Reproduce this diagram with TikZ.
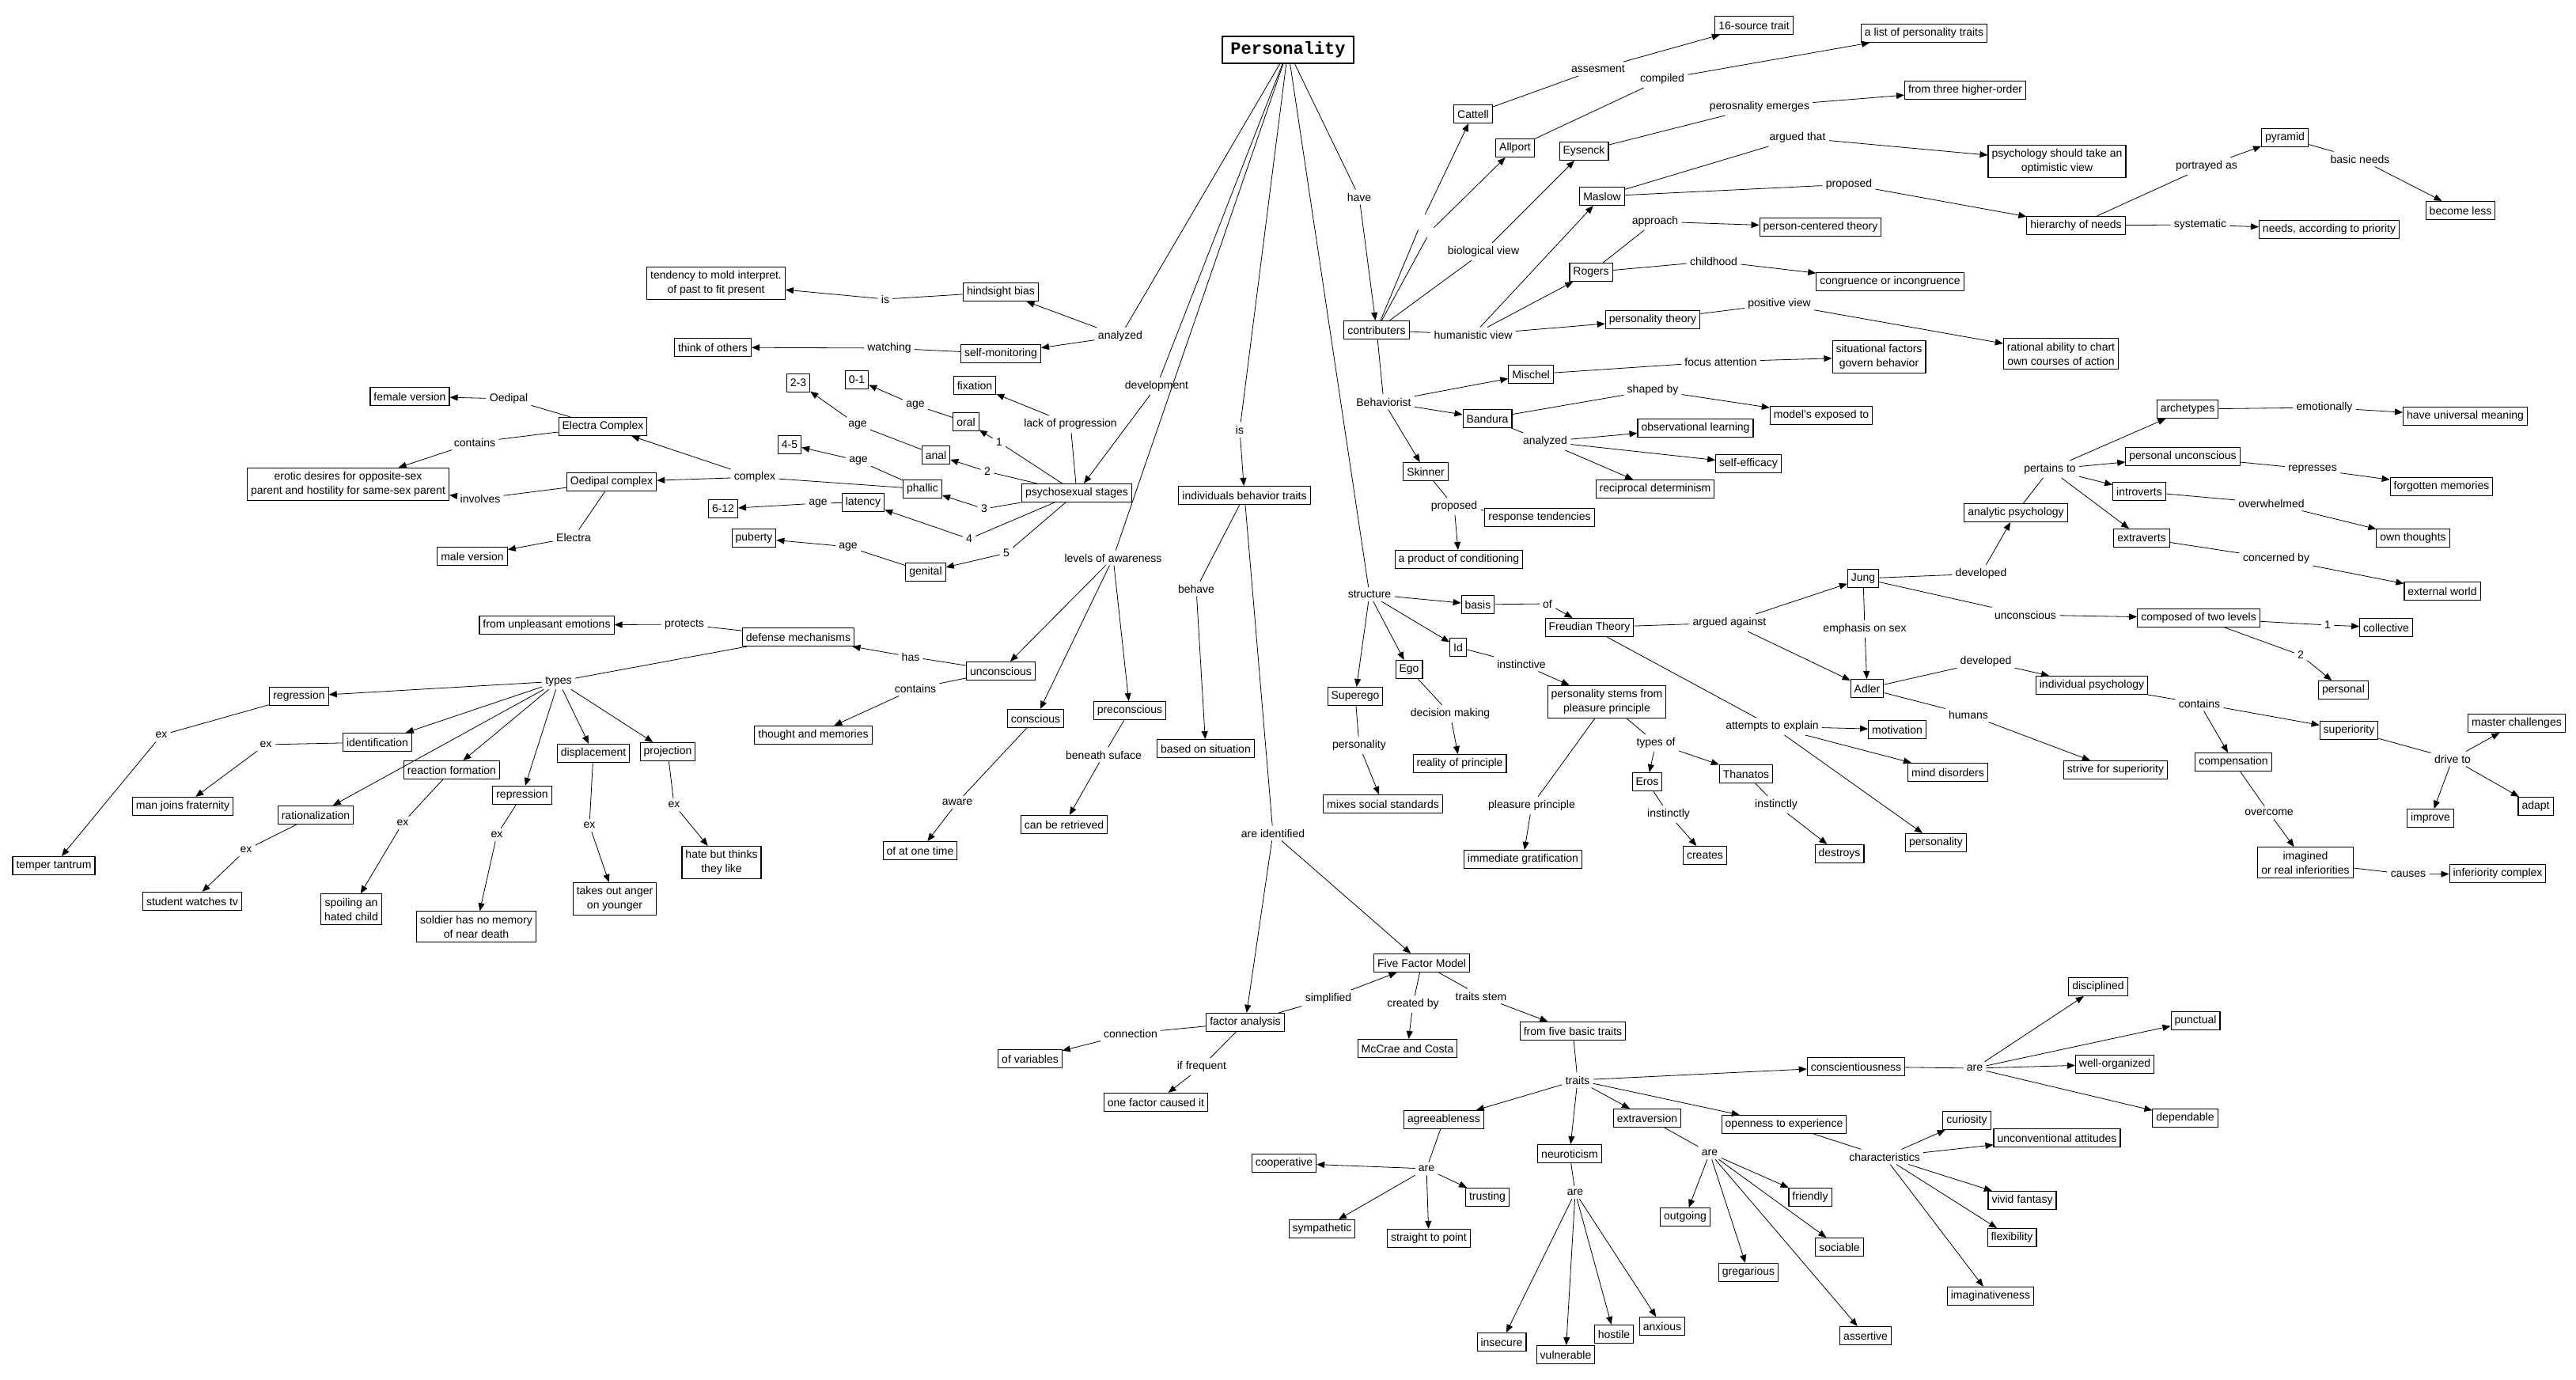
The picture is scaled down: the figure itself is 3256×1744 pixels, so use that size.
\documentclass[tikz,border=0pt]{standalone}
\usepackage{fontspec}
\setmainfont{Liberation Sans}
\newfontfamily\titlefont{Liberation Mono}
\usetikzlibrary{arrows.meta}
\begin{document}
\begin{tikzpicture}[x=1pt,y=-1pt,line width=0.8pt,
  >={Triangle[length=10pt,width=8pt]},
  mynode/.style={draw,line width=1.1pt,inner xsep=4.5pt,inner ysep=5pt,minimum height=23pt,align=center,font=\fontsize{14}{18}\selectfont},
  mylink/.style={inner sep=4pt,align=center,font=\fontsize{14}{18}\selectfont},
  myblank/.style={inner sep=0pt,minimum width=8pt,minimum height=22pt}
]
\useasboundingbox (0,0) rectangle (3256,1744);
\node[mynode,font=\fontsize{22}{24}\selectfont\titlefont\bfseries,minimum width=166pt,minimum height=34pt] (pers) at (1628,63) {Personality};

\node[mylink] (anlz) at (1416,425) {analyzed};
\node[mynode] (hind) at (1265,369) {hindsight bias};
\node[mylink] (isA) at (1119,378) {is};
\node[mynode] (tend) at (905,358) {tendency to mold interpret.\\of past to fit present};
\node[mynode] (selfm) at (1265,447) {self-monitoring};
\node[mylink] (watch) at (1124,440) {watching};
\node[mynode] (think) at (901,439) {think of others};
\node[mylink] (devel) at (1462,488) {development};
\node[mynode] (psy) at (1361,623) {psychosexual stages};
\node[mylink] (lack) at (1353,536) {lack of progression};
\node[mynode] (fix) at (1232,487) {fixation};
\node[mylink] (n1) at (1263,559) {1};
\node[mylink] (n2) at (1248,596) {2};
\node[mylink] (n3) at (1244,643) {3};
\node[mylink] (n4) at (1225,681) {4};
\node[mylink] (n5) at (1272,699) {5};
\node[mynode] (oral) at (1221,533) {oral};
\node[mynode] (anal) at (1183,575) {anal};
\node[mynode] (phal) at (1166,618) {phallic};
\node[mynode] (lat) at (1091,635) {latency};
\node[mynode] (gen) at (1170,723) {genital};
\node[mylink] (ageO) at (1157,512) {age};
\node[mylink] (ageA) at (1084,537) {age};
\node[mylink] (ageP) at (1085,582) {age};
\node[mylink] (ageL) at (1034,636) {age};
\node[mylink] (ageG) at (1072,691) {age};
\node[mynode] (a01) at (1083,480) {0-1};
\node[mynode] (a23) at (1009,484) {2-3};
\node[mynode] (a45) at (998,562) {4-5};
\node[mynode] (a612) at (914,643) {6-12};
\node[mynode] (apub) at (953,680) {puberty};
\node[mylink] (cplx) at (954,603) {complex};
\node[mynode] (oedc) at (773,609) {Oedipal complex};
\node[mynode] (elec) at (762,539) {Electra Complex};
\node[mylink] (oedl) at (643,504) {Oedipal};
\node[mynode] (fem) at (518,501) {female version};
\node[mylink] (contE) at (600,559) {contains};
\node[mynode] (erot) at (440,612) {erotic desires for opposite-sex\\parent and hostility for same-sex parent};
\node[mylink] (invl) at (607,630) {involves};
\node[mylink] (elel) at (725,679) {Electra};
\node[mynode] (male) at (597,703) {male version};

\node[mylink] (lvl) at (1407,705) {levels of awareness};
\node[mynode] (unc) at (1265,848) {unconscious};
\node[mynode] (consc) at (1309,908) {conscious};
\node[mynode] (prec) at (1428,898) {preconscious};
\node[mylink] (has) at (1151,830) {has};
\node[mynode] (defm) at (1009,805) {defense mechanisms};
\node[mylink] (contU) at (1157,870) {contains};
\node[mynode] (thought) at (1028,929) {thought and memories};
\node[mylink] (prot) at (865,789) {protects};
\node[mynode] (unpl) at (691,790) {from unpleasant emotions};
\node[mylink] (types) at (706,861) {types};
\node[mynode] (regr) at (378,880) {regression};
\node[mynode] (ident) at (477,938) {identification};
\node[mynode] (react) at (571,973) {reaction formation};
\node[mynode] (ratl) at (399,1030) {rationalization};
\node[mynode] (repr) at (660,1005) {repression};
\node[mynode] (displ) at (750,952) {displacement};
\node[mynode] (proj) at (844,950) {projection};
\node[mylink] (exR) at (204,929) {ex};
\node[mylink] (exI) at (336,941) {ex};
\node[mylink] (exRa) at (311,1074) {ex};
\node[mylink] (exRF) at (509,1040) {ex};
\node[mylink] (exRe) at (628,1055) {ex};
\node[mylink] (exD) at (745,1043) {ex};
\node[mylink] (exP) at (852,1017) {ex};
\node[mynode] (tant) at (68,1094) {temper tantrum};
\node[mynode] (frat) at (231,1019) {man joins fraternity};
\node[mynode] (tv) at (243,1139) {student watches tv};
\node[mynode] (spoil) at (444,1149) {spoiling an\\hated child};
\node[mynode] (sold) at (602,1171) {soldier has no memory\\of near death};
\node[mynode] (anger) at (777,1136) {takes out anger\\on younger};
\node[mynode] (hate) at (912,1090) {hate but thinks\\they like};
\node[mylink] (aware) at (1210,1014) {aware};
\node[mynode] (atone) at (1163,1075) {of at one time};
\node[mylink] (bensuf) at (1395,954) {beneath suface};
\node[mynode] (retr) at (1345,1042) {can be retrieved};

\node[mylink] (isB) at (1567,543) {is};
\node[mynode] (indiv) at (1573,626) {individuals behavior traits};
\node[mylink] (behave) at (1512,744) {behave};
\node[mynode] (based) at (1524,946) {based on situation};
\node[mylink] (areid) at (1609,1053) {are identified};
\node[mynode] (fact) at (1574,1292) {factor analysis};
\node[mylink] (conn) at (1429,1306) {connection};
\node[mynode] (vars) at (1302,1338) {of variables};
\node[mylink] (iffreq) at (1519,1348) {if frequent};
\node[mynode] (onef) at (1461,1393) {one factor caused it};
\node[mylink] (simp) at (1679,1262) {simplified};
\node[mynode] (ffm) at (1797,1217) {Five Factor Model};
\node[mylink] (creat) at (1786,1269) {created by};
\node[mynode] (mccr) at (1779,1325) {McCrae and Costa};
\node[mylink] (tstem) at (1872,1259) {traits stem};
\node[mynode] (five) at (1988,1303) {from five basic traits};
\node[mylink] (traits) at (1994,1365) {traits};
\node[mynode] (consci) at (2346,1348) {conscientiousness};
\node[mynode] (agree) at (1825,1415) {agreeableness};
\node[mynode] (extra) at (2082,1413) {extraversion};
\node[mynode] (open) at (2255,1421) {openness to experience};
\node[mynode] (neuro) at (1984,1458) {neuroticism};
\node[mylink] (areA) at (1803,1477) {are};
\node[mynode] (coop) at (1623,1470) {cooperative};
\node[mynode] (trust) at (1880,1513) {trusting};
\node[mynode] (symp) at (1671,1553) {sympathetic};
\node[mynode] (strt) at (1806,1565) {straight to point};
\node[mylink] (areN) at (1991,1507) {are};
\node[mynode] (insec) at (1898,1696) {insecure};
\node[mynode] (vuln) at (1979,1712) {vulnerable};
\node[mynode] (host) at (2040,1686) {hostile};
\node[mynode] (anx) at (2101,1676) {anxious};
\node[mylink] (areE) at (2161,1457) {are};
\node[mynode] (outg) at (2130,1538) {outgoing};
\node[mynode] (greg) at (2210,1608) {gregarious};
\node[mynode] (frnd) at (2288,1513) {friendly};
\node[mynode] (soc) at (2325,1576) {sociable};
\node[mynode] (asrt) at (2358,1688) {assertive};
\node[mylink] (charc) at (2382,1462) {characteristics};
\node[mynode] (curi) at (2486,1416) {curiosity};
\node[mynode] (unconv) at (2600,1438) {unconventional attitudes};
\node[mynode] (vivid) at (2556,1517) {vivid fantasy};
\node[mynode] (flex) at (2543,1564) {flexibility};
\node[mynode] (imag) at (2516,1638) {imaginativeness};
\node[mylink] (areC) at (2496,1350) {are};
\node[mynode] (disc) at (2652,1247) {disciplined};
\node[mynode] (punc) at (2775,1290) {punctual};
\node[mynode] (wellorg) at (2673,1345) {well-organized};
\node[mynode] (depend) at (2762,1413) {dependable};

\node[mylink] (have) at (1718,249) {have};
\node[mynode] (contr) at (1740,417) {contributers};
\node[myblank] (blkC) at (1797,280) {};
\node[myblank] (blkA) at (1808,292) {};
\node[mynode] (catt) at (1862,144) {Cattell};
\node[mynode] (allp) at (1915,187) {Allport};
\node[mynode] (eys) at (2002,191) {Eysenck};
\node[mynode] (masl) at (2025,248) {Maslow};
\node[mynode] (rog) at (2011,344) {Rogers};
\node[mynode] (ptheo) at (2089,404) {personality theory};
\node[mylink] (bio) at (1875,318) {biological view};
\node[mylink] (hum) at (1862,423) {humanistic view};
\node[mylink] (behv) at (1749,508) {Behaviorist};
\node[mylink] (asses) at (2020,87) {assesment};
\node[mynode] (src16) at (2217,32) {16-source trait};
\node[mylink] (compl) at (2101,100) {compiled};
\node[mynode] (list) at (2432,42) {a list of personality traits};
\node[mylink] (emrg) at (2224,135) {perosnality emerges};
\node[mynode] (three) at (2484,114) {from three higher-order};
\node[mylink] (argt) at (2272,174) {argued that};
\node[mynode] (optim) at (2600,204) {psychology should take an\\optimistic view};
\node[mylink] (propM) at (2337,233) {proposed};
\node[mynode] (hier) at (2624,285) {hierarchy of needs};
\node[mylink] (portr) at (2789,210) {portrayed as};
\node[mynode] (pyr) at (2888,174) {pyramid};
\node[mylink] (basicn) at (2983,201) {basic needs};
\node[mynode] (less) at (3110,266) {become less};
\node[mylink] (syst) at (2781,284) {systematic};
\node[mynode] (prio) at (2944,290) {needs, according to priority};
\node[mylink] (appr) at (2092,280) {approach};
\node[mynode] (pct) at (2301,287) {person-centered theory};
\node[mylink] (child) at (2166,330) {childhood};
\node[mynode] (congr) at (2389,356) {congruence or incongruence};
\node[mylink] (posv) at (2249,384) {positive view};
\node[mynode] (ratio) at (2605,447) {rational ability to chart\\own courses of action};
\node[mynode] (misch) at (1935,473) {Mischel};
\node[mylink] (focus) at (2175,457) {focus attention};
\node[mynode] (situ) at (2375,451) {situational factors\\govern behavior};
\node[mynode] (band) at (1880,529) {Bandura};
\node[mylink] (shaped) at (2089,493) {shaped by};
\node[mynode] (model) at (2302,525) {model's exposed to};
\node[mylink] (anlzB) at (1953,558) {analyzed};
\node[mynode] (obs) at (2143,541) {observational learning};
\node[mynode] (seff) at (2210,586) {self-efficacy};
\node[mynode] (recip) at (2092,618) {reciprocal determinism};
\node[mynode] (skin) at (1802,596) {Skinner};
\node[mylink] (propS) at (1838,640) {proposed};
\node[mynode] (resp) at (1946,654) {response tendencies};
\node[mynode] (prod) at (1844,707) {a product of conditioning};

\node[mylink] (struct) at (1731,751) {structure};
\node[mynode] (basis) at (1868,764) {basis};
\node[mylink] (ofl) at (1956,763) {of};
\node[mynode] (freud) at (2009,793) {Freudian Theory};
\node[mylink] (argag) at (2186,787) {argued against};
\node[mynode] (jung) at (2355,731) {Jung};
\node[mylink] (emph) at (2357,795) {emphasis on sex};
\node[mynode] (adler) at (2360,870) {Adler};
\node[mynode] (id) at (1843,818) {Id};
\node[mylink] (instv) at (1923,839) {instinctive};
\node[mynode] (ego) at (1781,846) {Ego};
\node[mynode] (sup) at (1713,880) {Superego};
\node[mynode] (stems) at (2031,887) {personality stems from\\pleasure principle};
\node[mylink] (decm) at (1833,902) {decision making};
\node[mynode] (real) at (1845,965) {reality of principle};
\node[mylink] (persl) at (1718,942) {personality};
\node[mynode] (mixes) at (1748,1016) {mixes social standards};
\node[mylink] (typof) at (2093,939) {types of};
\node[mynode] (eros) at (2082,988) {Eros};
\node[mynode] (than) at (2207,978) {Thanatos};
\node[mylink] (instE) at (2109,1029) {instinctly};
\node[mynode] (creates) at (2155,1081) {creates};
\node[mylink] (instT) at (2245,1017) {instinctly};
\node[mynode] (destr) at (2325,1079) {destroys};
\node[mylink] (plp) at (1936,1018) {pleasure principle};
\node[mynode] (immed) at (1925,1086) {immediate gratification};
\node[mylink] (attex) at (2240,918) {attempts to explain};
\node[mynode] (motiv) at (2398,922) {motivation};
\node[mynode] (mind) at (2462,976) {mind disorders};
\node[mynode] (perso2) at (2447,1065) {personality};

\node[mylink] (devJ) at (2504,725) {developed};
\node[mynode] (anpsy) at (2548,648) {analytic psychology};
\node[mylink] (pert) at (2591,593) {pertains to};
\node[mynode] (arch) at (2765,517) {archetypes};
\node[mylink] (emot) at (2938,515) {emotionally};
\node[mynode] (univ) at (3116,526) {have universal meaning};
\node[mynode] (persu) at (2759,577) {personal unconscious};
\node[mylink] (repres) at (2923,593) {represses};
\node[mynode] (forg) at (3086,615) {forgotten memories};
\node[mynode] (intro) at (2704,621) {introverts};
\node[mylink] (overw) at (2871,636) {overwhelmed};
\node[mynode] (ownth) at (3050,680) {own thoughts};
\node[mynode] (extv) at (2707,680) {extraverts};
\node[mylink] (concb) at (2877,706) {concerned by};
\node[mynode] (extw) at (3087,747) {external world};
\node[mylink] (uncJ) at (2560,777) {unconscious};
\node[mynode] (comp2) at (2779,781) {composed of two levels};
\node[mylink] (l1) at (2942,790) {1};
\node[mynode] (coll) at (3016,793) {collective};
\node[mylink] (l2) at (2908,828) {2};
\node[mynode] (persn) at (2962,872) {personal};
\node[mylink] (devA) at (2510,836) {developed};
\node[mynode] (indpsy) at (2644,866) {individual psychology};
\node[mylink] (humans) at (2488,903) {humans};
\node[mynode] (strive) at (2674,973) {strive for superiority};
\node[mylink] (contI) at (2780,889) {contains};
\node[mynode] (superi) at (2969,923) {superiority};
\node[mynode] (compen) at (2823,963) {compensation};
\node[mylink] (overc) at (2868,1027) {overcome};
\node[mynode] (imagi) at (2914,1090) {imagined\\or real inferiorities};
\node[mylink] (causes) at (3044,1105) {causes};
\node[mynode] (infc) at (3157,1104) {inferiority complex};
\node[mylink] (drive) at (3100,959) {drive to};
\node[mynode] (master) at (3181,914) {master challenges};
\node[mynode] (impr) at (3072,1034) {improve};
\node[mynode] (adapt) at (3205,1019) {adapt};

\path (pers) edge (anlz) edge (devel) edge (lvl) edge (isB) edge (struct) edge (have);
\path (anlz) edge[->] (hind) edge[->] (selfm);
\path (hind) edge (isA);
\path (isA) edge[->] (tend);
\path (selfm) edge (watch);
\path (watch) edge[->] (think);
\path (devel) edge[->] (psy);
\path (psy) edge (lack) edge (n1) edge (n2) edge (n3) edge (n4) edge (n5);
\path (lack) edge[->] (fix);
\path (n1) edge[->] (oral);
\path (n2) edge[->] (anal);
\path (n3) edge[->] (phal);
\path (n4) edge[->] (lat);
\path (n5) edge[->] (gen);
\path (oral) edge (ageO);
\path (ageO) edge[->] (a01);
\path (anal) edge (ageA);
\path (ageA) edge[->] (a23);
\path (phal) edge (ageP) edge (cplx);
\path (ageP) edge[->] (a45);
\path (lat) edge (ageL);
\path (ageL) edge[->] (a612);
\path (gen) edge (ageG);
\path (ageG) edge[->] (apub);
\path (cplx) edge[->] (oedc) edge[->] (elec);
\path (elec) edge (oedl) edge (contE);
\path (oedl) edge[->] (fem);
\path (contE) edge[->] (erot);
\path (oedc) edge (invl) edge (elel);
\path (invl) edge[->] (erot);
\path (elel) edge[->] (male);
\path (lvl) edge[->] (unc) edge[->] (consc) edge[->] (prec);
\path (unc) edge (has) edge (contU);
\path (has) edge[->] (defm);
\path (contU) edge[->] (thought);
\path (defm) edge (prot) edge (types);
\path (prot) edge[->] (unpl);
\path (types) edge[->] (regr) edge[->] (ident) edge[->] (ratl) edge[->] (react) edge[->] (repr) edge[->] (displ) edge[->] (proj);
\path (regr) edge (exR);
\path (exR) edge[->] (tant);
\path (ident) edge (exI);
\path (exI) edge[->] (frat);
\path (ratl) edge (exRa);
\path (exRa) edge[->] (tv);
\path (react) edge (exRF);
\path (exRF) edge[->] (spoil);
\path (repr) edge (exRe);
\path (exRe) edge[->] (sold);
\path (displ) edge (exD);
\path (exD) edge[->] (anger);
\path (proj) edge (exP);
\path (exP) edge[->] (hate);
\path (consc) edge (aware);
\path (aware) edge[->] (atone);
\path (prec) edge (bensuf);
\path (bensuf) edge[->] (retr);

\path (isB) edge[->] (indiv);
\path (indiv) edge (behave) edge (areid);
\path (behave) edge[->] (based);
\path (areid) edge[->] (fact) edge[->] (ffm);
\path (fact) edge (conn) edge (iffreq) edge (simp);
\path (conn) edge[->] (vars);
\path (iffreq) edge[->] (onef);
\path (simp) edge[->] (ffm);
\path (ffm) edge (creat) edge (tstem);
\path (creat) edge[->] (mccr);
\path (tstem) edge[->] (five);
\path (five) edge (traits);
\path (traits) edge[->] (consci) edge[->] (agree) edge[->] (neuro) edge[->] (extra) edge[->] (open);
\path (agree) edge (areA);
\path (areA) edge[->] (coop) edge[->] (trust) edge[->] (symp) edge[->] (strt);
\path (neuro) edge (areN);
\path (areN) edge[->] (insec) edge[->] (vuln) edge[->] (host) edge[->] (anx);
\path (extra) edge (areE);
\path (areE) edge[->] (outg) edge[->] (greg) edge[->] (frnd) edge[->] (soc) edge[->] (asrt);
\path (open) edge (charc);
\path (charc) edge[->] (curi) edge[->] (unconv) edge[->] (vivid) edge[->] (flex) edge[->] (imag);
\path (consci) edge (areC);
\path (areC) edge[->] (disc) edge[->] (punc) edge[->] (wellorg) edge[->] (depend);

\path (have) edge[->] (contr);
\path (contr) edge (blkC) edge (blkA) edge (bio) edge (hum) edge (behv);
\path (blkC) edge[->] (catt);
\path (blkA) edge[->] (allp);
\path (bio) edge[->] (eys);
\path (hum) edge[->] (masl) edge[->] (rog) edge[->] (ptheo);
\path (behv) edge[->] (misch) edge[->] (band) edge[->] (skin);
\path (catt) edge (asses);
\path (asses) edge[->] (src16);
\path (allp) edge (compl);
\path (compl) edge[->] (list);
\path (eys) edge (emrg);
\path (emrg) edge[->] (three);
\path (masl) edge (argt) edge (propM);
\path (argt) edge[->] (optim);
\path (propM) edge[->] (hier);
\path (hier) edge (portr) edge (syst);
\path (portr) edge[->] (pyr);
\path (syst) edge[->] (prio);
\path (pyr) edge (basicn);
\path (basicn) edge[->] (less);
\path (rog) edge (appr) edge (child);
\path (appr) edge[->] (pct);
\path (child) edge[->] (congr);
\path (ptheo) edge (posv);
\path (posv) edge[->] (ratio);
\path (misch) edge (focus);
\path (focus) edge[->] (situ);
\path (band) edge (shaped) edge (anlzB);
\path (shaped) edge[->] (model);
\path (anlzB) edge[->] (obs) edge[->] (seff) edge[->] (recip);
\path (skin) edge (propS);
\path (propS) edge (resp) edge[->] (prod);

\path (struct) edge[->] (basis) edge[->] (id) edge[->] (ego) edge[->] (sup);
\path (basis) edge (ofl);
\path (ofl) edge[->] (freud);
\path (freud) edge (argag) edge (attex);
\path (argag) edge[->] (jung) edge[->] (adler);
\path (attex) edge[->] (motiv) edge[->] (mind) edge[->] (perso2);
\path (id) edge (instv);
\path (instv) edge[->] (stems);
\path (ego) edge (decm);
\path (decm) edge[->] (real);
\path (sup) edge (persl);
\path (persl) edge[->] (mixes);
\path (stems) edge (plp) edge (typof);
\path (plp) edge[->] (immed);
\path (typof) edge[->] (eros) edge[->] (than);
\path (eros) edge (instE);
\path (instE) edge[->] (creates);
\path (than) edge (instT);
\path (instT) edge[->] (destr);
\path (jung) edge (emph) edge (devJ) edge (uncJ);
\path (emph) edge[->] (adler);
\path (devJ) edge[->] (anpsy);
\path (uncJ) edge[->] (comp2);
\path (anpsy) edge (pert);
\path (pert) edge[->] (arch) edge[->] (persu) edge[->] (intro) edge[->] (extv);
\path (arch) edge (emot);
\path (emot) edge[->] (univ);
\path (persu) edge (repres);
\path (repres) edge[->] (forg);
\path (intro) edge (overw);
\path (overw) edge[->] (ownth);
\path (extv) edge (concb);
\path (concb) edge[->] (extw);
\path (comp2) edge (l1) edge (l2);
\path (l1) edge[->] (coll);
\path (l2) edge[->] (persn);
\path (adler) edge (devA) edge (humans);
\path (devA) edge[->] (indpsy);
\path (humans) edge[->] (strive);
\path (indpsy) edge (contI);
\path (contI) edge[->] (superi) edge[->] (compen);
\path (superi) edge (drive);
\path (drive) edge[->] (master) edge[->] (impr) edge[->] (adapt);
\path (compen) edge (overc);
\path (overc) edge[->] (imagi);
\path (imagi) edge (causes);
\path (causes) edge[->] (infc);
\end{tikzpicture}
\end{document}
